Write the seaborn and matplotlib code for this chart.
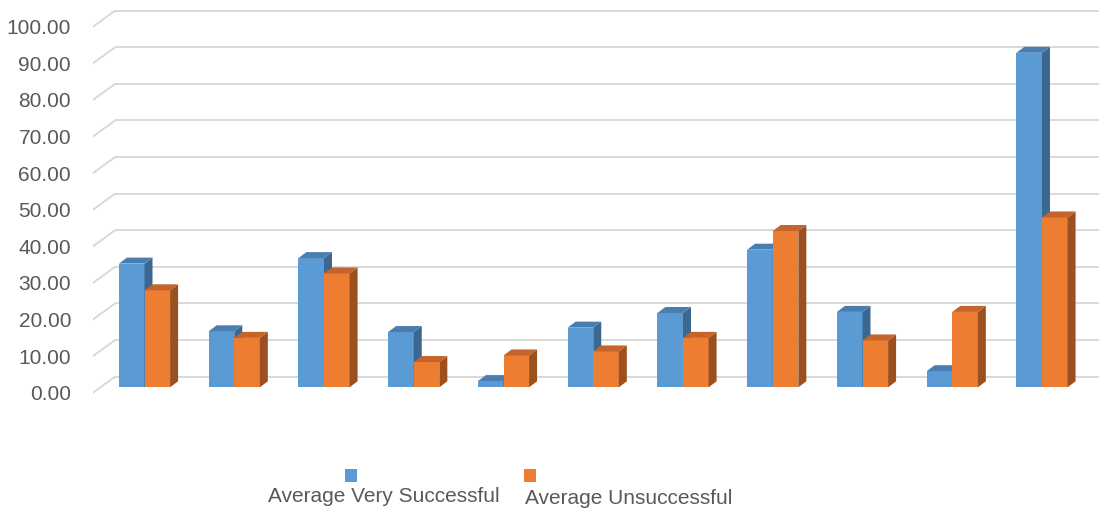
import numpy as np
import pandas as pd
import matplotlib
matplotlib.use("Agg")
import matplotlib.pyplot as plt
from matplotlib.patches import Polygon, Rectangle
import seaborn as sns

# ---- data ----
categories = [f"G{i}" for i in range(1, 12)]
series_names = ["Average Very Successful", "Average Unsuccessful"]
very_successful = [33.8, 15.3, 35.3, 15.1, 1.7, 16.3, 20.3, 37.6, 20.6, 4.4, 91.4]
unsuccessful = [26.5, 13.5, 31.1, 6.9, 8.7, 9.8, 13.5, 42.7, 12.8, 20.6, 46.4]
tick_values = [0, 10, 20, 30, 40, 50, 60, 70, 80, 90, 100]
tick_labels = [f"{v:.2f}" for v in tick_values]

df = pd.DataFrame({
    "category": categories * 2,
    "series": [series_names[0]] * len(categories) + [series_names[1]] * len(categories),
    "value": very_successful + unsuccessful,
})

front_colors = ["#5B9BD5", "#ED7D31"]
top_colors = ["#4A7EB1", "#C4632A"]
side_colors = ["#3B6790", "#9C5020"]
grid_color = "#D9D9D9"
text_color = "#595959"

sns.set_style("white")
plt.rcParams["font.family"] = ["Liberation Sans", "DejaVu Sans"]

W, H = 1099, 512
fig = plt.figure(figsize=(W / 100, H / 100), dpi=100)
left_px = 93
ax = fig.add_axes([left_px / W, 0, 1 - left_px / W, 1])

sns.barplot(data=df, x="category", y="value", hue="series",
            palette=front_colors, width=0.57, saturation=1,
            dodge=True, legend=False, ax=ax, linewidth=0, errorbar=None)

# pixel -> data mapping
px_per_cat = 89.75
px_per_unit = 3.66
x_center0 = 144.5
base_px = 387.3
ax.set_xlim((left_px - x_center0) / px_per_cat, (W - x_center0) / px_per_cat)
ax.set_ylim(-(H - base_px) / px_per_unit, base_px / px_per_unit)

# 3D-ish gridlines: back wall + left side diagonals
back_shift = 10.6 / px_per_unit
front_shift = -5.4 / px_per_unit
x_front = (left_px - x_center0) / px_per_cat
x_back = (115 - x_center0) / px_per_cat
for v in tick_values:
    ax.plot([x_back, ax.get_xlim()[1]], [v + back_shift, v + back_shift],
            color=grid_color, lw=1.4, zorder=0.5, solid_capstyle="butt")
    ax.plot([x_front, x_back], [v + front_shift, v + back_shift],
            color=grid_color, lw=1.4, zorder=0.5)

# depth faces for bars
dx = 8.0 / px_per_cat
dy = 6.0 / px_per_unit
for si, cont in enumerate(ax.containers):
    z = 2 + si * 2
    for bar in cont:
        bar.set_zorder(z)
        x0 = bar.get_x()
        w = bar.get_width()
        h = bar.get_height()
        side = Polygon([(x0 + w, 0), (x0 + w + dx, dy), (x0 + w + dx, h + dy), (x0 + w, h)],
                       closed=True, facecolor=side_colors[si], edgecolor="none", zorder=z + 0.5)
        top = Polygon([(x0, h), (x0 + dx, h + dy), (x0 + w + dx, h + dy), (x0 + w, h)],
                      closed=True, facecolor=top_colors[si], edgecolor="none", zorder=z + 0.5)
        ax.add_patch(side)
        ax.add_patch(top)

# y tick labels at the front ends of the diagonals
ax.set_yticks([v + front_shift for v in tick_values])
ax.set_yticklabels(tick_labels)
ax.tick_params(axis="y", length=0, pad=15.8, labelsize=15, labelcolor=text_color)
ax.set_xticks([])
ax.set_xlabel("")
ax.set_ylabel("")
for s in ax.spines.values():
    s.set_visible(False)

# legend: squares above labels
legend_items = [
    (345, 469, 268, 496.7),
    (524, 469, 525, 498.5),
]
for i, (sx, sy, tx, ty) in enumerate(legend_items):
    fig.patches.append(Rectangle((sx / W, 1 - (sy + 13) / H), 12 / W, 13 / H,
                                 transform=fig.transFigure, facecolor=front_colors[i],
                                 edgecolor="none"))
    fig.text(tx / W, 1 - ty / H, series_names[i], ha="left", va="center",
             fontsize=15, color=text_color)

fig.savefig("out.png", dpi=100)
